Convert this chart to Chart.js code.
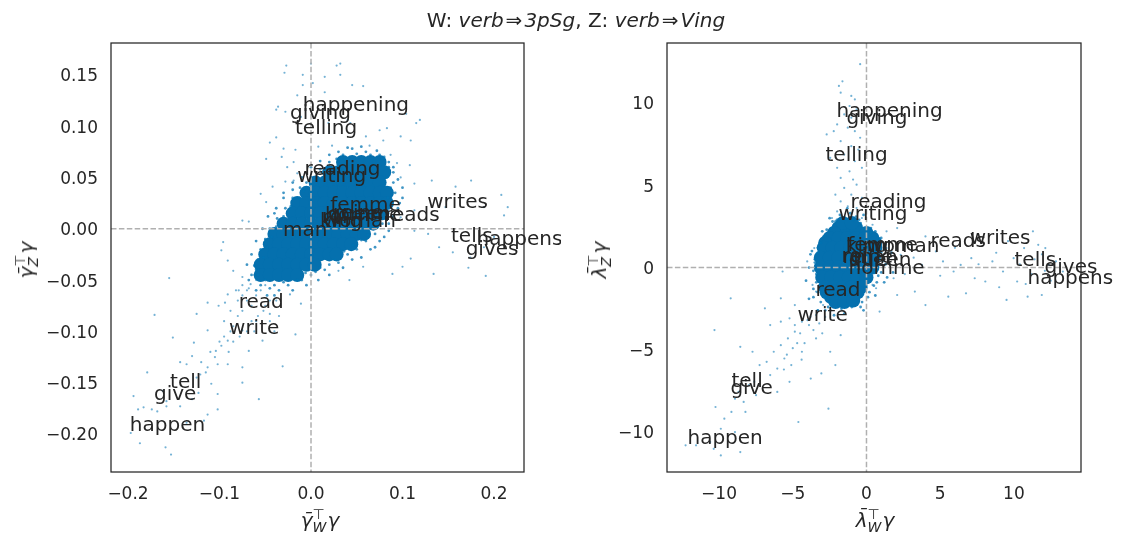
<!DOCTYPE html>
<html>
<head>
<meta charset="utf-8">
<script src="https://cdn.jsdelivr.net/npm/chart.js@4.4.1/dist/chart.umd.min.js"></script>
<style>
  body { margin: 0; background: #fff; }
  #wrap { position: relative; width: 1122px; height: 546px; overflow: hidden; font-family: "DejaVu Sans", sans-serif; color: #262626; }
  canvas { position: absolute; top: 0; }
  .txt { position: absolute; white-space: nowrap; transform: translate(-50%, -50%); }
  .title { font-size: 20px; }
  .title b { font-weight: normal; margin: 0 2px; }
  .lab { font-size: 20px; font-style: italic; }
  .ylab { transform: translate(-50%, -50%) rotate(-90deg); }
  .ss { display: inline-flex; flex-direction: column; font-size: 14px; line-height: 13px; vertical-align: 8px; margin: 0 1px 0 0; font-style: italic; }
  .ss span:first-child { font-style: normal; }
</style>
</head>
<body>
<div id="wrap">
  <canvas id="left" width="561" height="546" style="left:0"></canvas>
  <canvas id="right" width="561" height="546" style="left:561px"></canvas>
  <div class="txt title" style="left:576px;top:20px">W: <i>verb</i><b>⇒</b><i>3pSg</i>, Z: <i>verb</i><b>⇒</b><i>Ving</i></div>
  <div class="txt lab" style="left:320px;top:521px">γ̄<span class="ss"><span>⊤</span><span>W</span></span>γ</div>
  <div class="txt lab ylab" style="left:27px;top:260px">γ̄<span class="ss"><span>⊤</span><span>Z</span></span>γ</div>
  <div class="txt lab" style="left:875px;top:521px">λ̄<span class="ss"><span>⊤</span><span>W</span></span>γ</div>
  <div class="txt lab ylab" style="left:600px;top:260px">λ̄<span class="ss"><span>⊤</span><span>Z</span></span>γ</div>
</div>
<script>
// ---- left panel (gamma) ----
const leftXTicks = [-0.2, -0.1, 0, 0.1, 0.2];
const leftYTicks = [-0.2, -0.15, -0.1, -0.05, 0, 0.05, 0.1, 0.15];

// dense middle of the cloud
const leftCore = [
  [0.035,0.065],[0.045,0.065],[0.055,0.065],[0.065,0.065],[0.075,0.065],
  [0.02,0.055],[0.03,0.055],[0.04,0.055],[0.05,0.055],[0.06,0.055],[0.07,0.055],[0.08,0.055],
  [0.005,0.045],[0.015,0.045],[0.025,0.045],[0.035,0.045],[0.045,0.045],[0.055,0.045],[0.065,0.045],[0.075,0.045],
  [-0.005,0.035],[0.005,0.035],[0.015,0.035],[0.025,0.035],[0.035,0.035],[0.045,0.035],[0.055,0.035],[0.065,0.035],[0.075,0.035],[0.083,0.035],
  [-0.015,0.025],[-0.005,0.025],[0.005,0.025],[0.015,0.025],[0.025,0.025],[0.035,0.025],[0.045,0.025],[0.055,0.025],[0.065,0.025],[0.075,0.025],[0.083,0.025],
  [-0.02,0.015],[-0.01,0.015],[0,0.015],[0.01,0.015],[0.02,0.015],[0.03,0.015],[0.04,0.015],[0.05,0.015],[0.06,0.015],[0.07,0.015],[0.078,0.015],
  [-0.03,0.005],[-0.02,0.005],[-0.01,0.005],[0,0.005],[0.01,0.005],[0.02,0.005],[0.03,0.005],[0.04,0.005],[0.05,0.005],[0.06,0.005],[0.068,0.005],
  [-0.04,-0.005],[-0.03,-0.005],[-0.02,-0.005],[-0.01,-0.005],[0,-0.005],[0.01,-0.005],[0.02,-0.005],[0.03,-0.005],[0.04,-0.005],[0.05,-0.005],[0.058,-0.005],
  [-0.045,-0.015],[-0.035,-0.015],[-0.025,-0.015],[-0.015,-0.015],[-0.005,-0.015],[0.005,-0.015],[0.015,-0.015],[0.025,-0.015],[0.035,-0.015],[0.044,-0.015],
  [-0.05,-0.025],[-0.04,-0.025],[-0.03,-0.025],[-0.02,-0.025],[-0.01,-0.025],[0,-0.025],[0.01,-0.025],[0.02,-0.025],[0.028,-0.025],
  [-0.055,-0.035],[-0.045,-0.035],[-0.035,-0.035],[-0.025,-0.035],[-0.015,-0.035],[-0.005,-0.035],[0.004,-0.035],
  [-0.055,-0.045],[-0.045,-0.045],[-0.035,-0.045],[-0.025,-0.045],[-0.015,-0.045]
];
// fuzzy edge round the middle
const leftRing = [
  [0.03,0.075],[0.045,0.078],[0.06,0.075],[0.075,0.072],[0.085,0.065],[0.02,0.065],[0.01,0.058],[0,0.05],
  [0.09,0.055],[0.09,0.045],[0.092,0.035],[0.088,0.025],[0.083,0.015],[0.078,0.005],[0.07,-0.005],[0.06,-0.012],
  [0.05,-0.02],[0.04,-0.025],[0.03,-0.033],[0.015,-0.04],[0,-0.045],[-0.01,-0.05],[-0.025,-0.055],[-0.04,-0.055],
  [-0.05,-0.05],[-0.06,-0.04],[-0.058,-0.03],[-0.055,-0.02],[-0.05,-0.01],[-0.045,0],[-0.037,0.01],[-0.028,0.02],
  [-0.02,0.03],[-0.012,0.04],[-0.005,0.045],[-0.065,-0.045],[-0.07,-0.035],[-0.048,-0.065],[-0.035,-0.06],[-0.02,0.045],
  [-0.03,0.03],[-0.04,0.015],[0.1,0.03],[0.1,0.04],[0.095,0.02],[0.085,0.005],[0.08,-0.008],[0.07,-0.018],
  [0.08,0.07],[0.085,0.06],[0.083,0.05],[0.087,0.04],[0.084,0.03],[0.08,0.02],[0.075,0.012],[0.068,0.003],
  [0.062,-0.006],[0.055,-0.011],[0.046,-0.016],[0.036,-0.022],[0.026,-0.03],[0.02,-0.035],[0.01,-0.038],[0.005,-0.042],
  [-0.006,-0.043],[-0.015,-0.05],[-0.03,-0.052],[-0.045,-0.058],[-0.055,-0.055],[-0.058,-0.045],[-0.062,-0.036],[-0.052,-0.028],
  [-0.048,-0.018],[-0.043,-0.008],[-0.038,0.002],[-0.03,0.012],[-0.022,0.022],[-0.013,0.03],[-0.008,0.037],[0,0.042],
  [0.006,0.048],[0.012,0.055],[0.018,0.06],[0.028,0.068],[0.035,0.072],[0.05,0.073],[0.065,0.072],[0.078,0.068],
  [0.072,0.076],[0.055,0.08],[0.04,0.079],[0.09,0.06],[0.095,0.048],[0.097,0.025],[0.09,0.012],[0.085,-0.002],
  [0.075,-0.012],[0.065,-0.02],[0.055,-0.028],[0.045,-0.03],[0.035,-0.038],[0.02,-0.045],[0.008,-0.05],[-0.005,-0.055],
  [-0.02,-0.06],[-0.04,-0.065],[-0.06,-0.06],[-0.068,-0.05],[-0.065,-0.025],[-0.06,-0.012],[-0.053,0],[-0.047,0.012],
  [-0.038,0.02],[-0.03,0.035],[-0.02,0.038],[-0.01,0.05],[0,0.06],[0.01,0.066],[0.02,0.072]
];
const leftSparse = [
  [-0.027,0.159],[-0.029,0.152],[0,0.161],[0.015,0.148],[0.032,0.161],[0.028,0.159],[0.032,0.15],[-0.009,0.15],
  [-0.009,0.14],[0.002,0.142],[0.057,0.139],[0.045,0.14],[0.015,0.133],[-0.015,0.13],[-0.038,0.116],[-0.036,0.119],
  [-0.028,0.114],[-0.011,0.109],[-0.006,0.099],[0.019,0.103],[0.04,0.106],[0.043,0.103],[0.119,0.106],[0.115,0.103],
  [0.104,0.112],[0.083,0.098],[0.075,0.096],[-0.038,0.089],[-0.045,0.084],[-0.03,0.078],[-0.017,0.077],[0.008,0.08],
  [0.023,0.081],[0.06,0.09],[0.079,0.086],[0.098,0.09],[0.109,0.086],[0.064,0.081],[-0.049,0.068],[-0.032,0.07],
  [-0.019,0.065],[-0.026,0.06],[-0.015,0.054],[0.087,0.072],[0.094,0.064],[0.075,0.067],[0.108,0.062],[-0.028,0.046],
  [-0.019,0.047],[-0.042,0.041],[-0.055,0.034],[-0.049,0.026],[0.098,0.05],[0.113,0.044],[0.132,0.047],[0.158,0.041],
  [0.175,0.047],[0.208,0.033],[0.215,0.021],[0.211,0.013],[0.189,0.021],[0.147,0.021],[0.113,0.018],[0.098,0.011],
  [0.113,-0.002],[0.128,-0.005],[0.14,-0.018],[0.155,-0.023],[0.174,-0.028],[0.189,-0.018],[0.2,-0.008],[0.109,-0.029],
  [0.1,-0.037],[0.134,-0.044],[0.172,-0.038],[0.191,-0.046],[0.089,-0.044],[0.057,-0.037],[0.042,-0.05],[0.03,-0.041],
  [-0.075,0.008],[-0.068,0.007],[-0.096,-0.013],[-0.098,-0.021],[-0.091,-0.031],[-0.085,-0.041],[-0.075,-0.047],[-0.066,-0.054],
  [-0.079,-0.06],[-0.091,-0.064],[-0.094,-0.072],[-0.101,-0.075],[-0.113,-0.072],[-0.125,-0.083],[-0.171,-0.084],[-0.155,-0.048],
  [-0.017,-0.103],[-0.011,-0.073],[-0.023,-0.064],[-0.038,-0.07],[-0.045,-0.083],[-0.06,-0.09],[-0.075,-0.099],[-0.091,-0.109],
  [-0.098,-0.114],[-0.104,-0.119],[-0.113,-0.099],[-0.128,-0.111],[-0.13,-0.124],[-0.136,-0.132],[-0.143,-0.13],[-0.121,-0.142],
  [-0.113,-0.135],[-0.102,-0.132],[-0.091,-0.132],[-0.075,-0.135],[-0.068,-0.119],[-0.053,-0.109],[-0.031,-0.134],[-0.057,-0.166],
  [-0.075,-0.15],[-0.109,-0.151],[-0.102,-0.161],[-0.102,-0.176],[-0.123,-0.16],[-0.13,-0.166],[-0.151,-0.106],[-0.162,-0.158],
  [-0.158,-0.168],[-0.179,-0.14],[-0.174,-0.176],[-0.183,-0.174],[-0.189,-0.176],[-0.194,-0.163],[-0.197,-0.199],[-0.187,-0.209],
  [-0.159,-0.213],[-0.153,-0.22],[-0.143,-0.173],[-0.158,-0.173],[-0.168,-0.178],[-0.117,-0.187],[-0.113,-0.181],[-0.136,-0.189],
  [-0.085,-0.095],[-0.08,-0.085],[-0.075,-0.08],[-0.07,-0.07],[-0.065,-0.075],[-0.06,-0.065],[-0.055,-0.06],[-0.06,-0.05],
  [-0.05,-0.055],[-0.07,-0.06],[-0.08,-0.07],[-0.088,-0.1],[-0.095,-0.105],[-0.1,-0.11],[-0.11,-0.12],[-0.105,-0.125],
  [-0.12,-0.13],[-0.115,-0.14],[-0.125,-0.145],[-0.09,-0.12],[-0.085,-0.11],[-0.078,-0.105],[-0.07,-0.1],[-0.065,-0.09],
  [-0.058,-0.085],[-0.05,-0.075],[-0.045,-0.07],[-0.052,-0.08],[-0.062,-0.1],[-0.095,-0.09],[-0.088,-0.08],[-0.075,-0.065],
  [-0.068,-0.058],[-0.062,-0.045],[-0.057,-0.04],[-0.075,-0.055],[-0.082,-0.06],[-0.045,-0.09],[-0.035,-0.085],[-0.04,-0.1]
];
const leftWords = [
  ['happening',-0.009,0.115],['giving',-0.023,0.107],['telling',-0.0175,0.092],
  ['reading',-0.007,0.0525],['writing',-0.015,0.046],['femme',0.021,0.0175],
  ['homme',0.0153,0.0078],['queen',0.0186,0.0088],['reine',0.024,0.0097],['roi',0.012,0.0058],
  ['reads',0.08,0.0078],['king',0.0098,0.0013],['woman',0.013,0.0013],['man',-0.0306,-0.0068],
  ['writes',0.127,0.0204],['tells',0.153,-0.0126],['happens',0.181,-0.0156],['gives',0.169,-0.026],
  ['read',-0.079,-0.077],['write',-0.0896,-0.103],['tell',-0.154,-0.1556],['give',-0.1716,-0.167],['happen',-0.198,-0.1975]
];

// ---- right panel (lambda) ----
const rightXTicks = [-10, -5, 0, 5, 10];
const rightYTicks = [-10, -5, 0, 5, 10];

const rightCore = [
  [-1.9,2.4],[-1.3,2.4],[-0.7,2.4],[-1.6,2.7],[-1.0,2.7],[-2.2,2.1],[0.0,2.1],
  [-2.5,1.8],[-1.9,1.8],[-1.3,1.8],[-0.7,1.8],[-0.1,1.8],[0.4,1.8],[-2.8,1.5],[0.6,1.5],
  [-2.9,1.2],[-2.3,1.2],[-1.7,1.2],[-1.1,1.2],[-0.5,1.2],[0.1,1.2],[0.6,1.2],
  [-3.1,0.6],[-2.5,0.6],[-1.9,0.6],[-1.3,0.6],[-0.7,0.6],[-0.1,0.6],[0.5,0.6],
  [-3.1,0],[-2.5,0],[-1.9,0],[-1.3,0],[-0.7,0],[-0.1,0],[0.4,0],
  [-3.0,-0.6],[-2.4,-0.6],[-1.8,-0.6],[-1.2,-0.6],[-0.6,-0.6],[0,-0.6],
  [-2.8,-1.2],[-2.2,-1.2],[-1.6,-1.2],[-1.0,-1.2],[-0.4,-1.2],[-2.7,-1.5],[-0.6,-1.5],
  [-2.4,-1.8],[-1.8,-1.8],[-1.2,-1.8],[-2.1,-2.1],[-1.5,-2.1],[-0.9,-2.0]
];
const rightRing = [
  [-1.5,3.0],[-0.9,2.9],[-2.4,2.4],[0.3,2.4],[-2.9,1.9],[1.0,1.8],[-3.3,1.2],[1.2,1.1],
  [-3.5,0.5],[1.1,0.4],[-3.6,-0.2],[1.0,-0.3],[-3.4,-0.9],[0.7,-0.9],[-3.3,-1.5],[0.2,-1.5],
  [-3.1,-2.1],[-0.3,-2.1],[-2.6,-2.4],[-1.7,-2.5],[-1.0,-2.4],[-2.2,-2.9],[-3.6,-1.8],[-3.8,0.8],
  [1.5,0.6],[1.4,-0.6],[-0.5,2.9],[-2.0,2.9],
  [-2.3,2.8],[-1.8,3.2],[-1.1,3.3],[-0.4,2.7],[0.3,2.1],[0.8,1.5],[1.0,0.9],[0.9,0.2],
  [0.8,-0.5],[0.5,-1.1],[0.1,-1.8],[-0.4,-2.4],[-1.3,-2.3],[-1.9,-2.3],[-2.5,-2.1],[-2.9,-1.8],
  [-3.2,-1.1],[-3.4,-0.4],[-3.5,0.3],[-3.3,0.9],[-3.1,1.5],[-2.7,2.3],[-2.1,2.8],[-0.7,3.1],
  [0.6,2.2],[1.3,1.4],[1.3,0.2],[1.2,-0.9],[0.6,-1.7],[-0.2,-2.6],[-1.5,-2.8],[-2.8,-2.6],
  [-3.6,-1.3],[-3.9,0.0],[-3.7,1.0],[-3.0,2.2],[-2.5,3.0],[-1.3,3.6],[-0.2,3.2],[1.7,0.9],
  [1.8,-0.3],[-4.1,-0.8],[-3.9,-1.9],[-3.3,-2.6]
];
const rightSparse = [
  [-0.43,12.36],[-1.63,11.32],[-1.87,11.04],[-1.03,10.43],[-1.75,10.63],[-0.79,10.22],[-1.15,9.82],[-0.67,9.61],
  [-1.51,9.31],[-1.03,9.11],[-1.99,8.7],[-2.7,8.09],[-1.27,8.5],[-0.79,8.29],[-0.43,7.89],[-1.75,7.68],
  [-2.22,8.29],[-1.03,7.38],[-0.55,7.17],[-2.46,6.67],[-1.51,6.87],[-0.79,6.46],[-1.99,6.06],[-1.15,5.85],
  [-0.31,6.06],[-1.75,5.45],[-0.91,5.35],[-0.67,5.04],[-1.51,4.84],[-2.11,4.43],[-1.03,4.43],[-0.31,4.23],
  [-1.75,4.02],[-1.27,3.72],[-0.67,3.62],[-1.99,3.41],[-2.34,3.01],[-1.51,3.01],[-0.31,3.01],[0.41,2.6],
  [1.36,2.2],[2.08,2.4],[0.89,1.79],[-3.54,1.18],[-4.02,0.37],[-5.69,-0.24],[-3.66,-1.06],[-3.42,-1.46],
  [1.36,1.18],[2.32,0.77],[3.04,1.38],[4.0,1.89],[4.71,0.98],[5.19,0.37],[5.91,-0.24],[6.39,0.16],
  [7.11,0.57],[7.34,-0.65],[8.06,-0.85],[8.54,0.37],[9.26,-0.24],[9.98,0.57],[10.69,1.18],[11.29,2.2],
  [11.65,1.38],[12.13,1.18],[12.37,0.16],[12.85,0.37],[13.32,-0.24],[11.89,-1.67],[10.93,-1.77],[9.5,-1.97],
  [10.22,-0.85],[3.76,0.16],[4.0,-2.28],[3.28,-1.46],[5.55,-1.77],[6.75,-1.57],[2.08,-1.67],[1.84,-0.65],
  [0.65,-1.26],[0.89,-2.68],[0.41,-1.06],[8.8,0.9],[9.6,1.6],[10.4,0.2],[11.2,-0.4],[11.9,0.8],
  [6.0,1.2],[7.6,0.2],[9.0,-1.2],[12.5,-0.8],[10.8,-1.0],[5.0,-0.5],[3.2,0.6],[2.6,-0.4],[11.4,0.5],[12.1,-0.2],
  [-2.94,-2.28],[-3.42,-2.89],[-3.9,-3.5],[-4.38,-3.29],[-4.86,-3.9],[-5.33,-4.31],[-5.81,-4.72],[-6.29,-5.12],
  [-5.57,-5.53],[-5.1,-5.93],[-6.05,-6.14],[-6.53,-6.54],[-6.77,-5.73],[-7.25,-5.93],[-7.61,-6.95],[-7.97,-7.15],
  [-8.68,-7.56],[-8.92,-7.97],[-9.16,-8.78],[-9.64,-9.19],[-9.88,-9.8],[-10.36,-11.02],[-10.6,-10.61],[-11.56,-10.81],
  [-12.27,-10.81],[-9.88,-11.42],[-8.56,-11.22],[-8.33,-8.17],[-7.73,-5.12],[-6.89,-2.48],[-5.81,-1.87],[-9.21,-1.87],
  [-10.31,-3.8],[-8.56,-4.82],[-10.24,-8.48],[-4.62,-9.39],[-2.58,-8.58],[-3.06,-6.44],[-2.11,-5.93],[-3.78,-6.75],
  [-2.46,-5.12],[-1.75,-4.11],[-5.22,-6.95],[-6.05,-7.56],[-7.49,-7.76],[-8.21,-8.78],[-8.92,-10.0],[-4.38,-5.12],
  [-4.86,-3.5],[-3.42,-4.31],[-5.22,-3.09],[-5.81,-3.29],[-6.53,-3.5],[-4.86,-2.28],
  [-4.2,-4.6],[-4.5,-4.0],[-3.8,-3.0],[-3.3,-2.6],[-3.6,-3.8],[-4.0,-3.2],[-4.7,-4.6],[-5.0,-4.9],
  [-5.4,-5.3],[-3.2,-3.4],[-2.8,-3.0],[-2.4,-2.6],[-4.4,-5.6],[-5.6,-6.2],[-3.0,-4.0]
];
const rightWords = [
  ['happening',-2.04,9.18],['giving',-1.36,8.7],['telling',-2.78,6.5],
  ['reading',-1.09,3.59],['writing',-1.9,2.92],['femme',-1.3,1.0],['king',-1.4,0.95],['woman',0.0,0.95],
  ['reine',-1.63,0.3],['roi',-1.7,0.35],['queen',-1.2,0.1],['man',-0.9,0.3],['homme',-1.22,-0.37],
  ['reads',4.34,1.22],['writes',7.0,1.46],['tells',10.04,0.12],['gives',12.08,-0.36],['happens',10.92,-1.03],
  ['read',-3.46,-1.76],['write',-4.68,-3.22],['tell',-9.16,-7.24],['give',-9.23,-7.66],['happen',-12.14,-10.7]
];

const ink = '#262626';
const tickFont = { family: 'DejaVu Sans', size: 17 };

function minus(s) {
  return s.replace('-', '\u2212');
}

function makeChart(id, opts) {
  const decor = {
    id: 'decor',
    afterDatasetsDraw(chart) {
      const { ctx, chartArea: a } = chart;
      const x0 = chart.scales.x.getPixelForValue(0);
      const y0 = chart.scales.y.getPixelForValue(0);
      ctx.save();
      // zero lines
      ctx.strokeStyle = '#b0b0b0';
      ctx.lineWidth = 1.5;
      ctx.setLineDash([5.5, 2.4]);
      ctx.beginPath();
      ctx.moveTo(x0, a.top); ctx.lineTo(x0, a.bottom);
      ctx.moveTo(a.left, y0); ctx.lineTo(a.right, y0);
      ctx.stroke();
      ctx.setLineDash([]);
      // frame
      ctx.strokeStyle = ink;
      ctx.lineWidth = 1.25;
      ctx.strokeRect(a.left, a.top, a.right - a.left, a.bottom - a.top);
      // word labels
      ctx.fillStyle = ink;
      ctx.font = '20px "DejaVu Sans"';
      ctx.textAlign = 'left';
      ctx.textBaseline = 'alphabetic';
      opts.words.forEach(w => {
        ctx.fillText(w[0], chart.scales.x.getPixelForValue(w[1]), chart.scales.y.getPixelForValue(w[2]));
      });
      ctx.restore();
    }
  };

  return new Chart(document.getElementById(id), {
    type: 'scatter',
    data: {
      datasets: [
        { data: opts.sparse.map(p => ({ x: p[0], y: p[1] })), pointRadius: 1.1, backgroundColor: 'rgba(1,115,178,0.55)', borderWidth: 0 },
        { data: opts.ring.map(p => ({ x: p[0], y: p[1] })), pointRadius: 1.4, backgroundColor: 'rgba(1,115,178,0.75)', borderWidth: 0 },
        { data: opts.core.map(p => ({ x: p[0], y: p[1] })), pointRadius: 7, backgroundColor: 'rgb(5,112,174)', borderWidth: 0 }
      ]
    },
    options: {
      responsive: false,
      animation: false,
      events: [],
      layout: { padding: { top: 43, right: opts.padRight, left: 0, bottom: 0 } },
      plugins: { legend: { display: false }, tooltip: { enabled: false } },
      scales: {
        x: {
          type: 'linear', min: opts.xMin, max: opts.xMax,
          grid: { display: false, drawTicks: false },
          border: { display: false },
          afterBuildTicks: s => { s.ticks = opts.xTicks.map(v => ({ value: v })); },
          afterFit: s => { s.height = 74; },
          ticks: { autoSkip: false, maxRotation: 0, padding: 12, color: ink, font: tickFont,
                   callback: v => minus(v.toFixed(opts.xDigits)) }
        },
        y: {
          type: 'linear', min: opts.yMin, max: opts.yMax,
          grid: { display: false, drawTicks: false },
          border: { display: false },
          afterBuildTicks: s => { s.ticks = opts.yTicks.map(v => ({ value: v })); },
          afterFit: s => { s.width = opts.yWidth; },
          ticks: { autoSkip: false, padding: 13, labelOffset: 2, color: ink, font: tickFont,
                   callback: v => minus(v.toFixed(opts.yDigits)) }
        }
      }
    },
    plugins: [decor]
  });
}

makeChart('left', {
  core: leftCore, ring: leftRing, sparse: leftSparse, words: leftWords,
  xTicks: leftXTicks, yTicks: leftYTicks, xDigits: 1, yDigits: 2,
  xMin: -0.2186, xMax: 0.2328, yMin: -0.237, yMax: 0.181,
  yWidth: 111, padRight: 37
});

makeChart('right', {
  core: rightCore, ring: rightRing, sparse: rightSparse, words: rightWords,
  xTicks: rightXTicks, yTicks: rightYTicks, xDigits: 0, yDigits: 0,
  xMin: -13.53, xMax: 14.55, yMin: -12.43, yMax: 13.65,
  yWidth: 106, padRight: 41
});
</script>
</body>
</html>
